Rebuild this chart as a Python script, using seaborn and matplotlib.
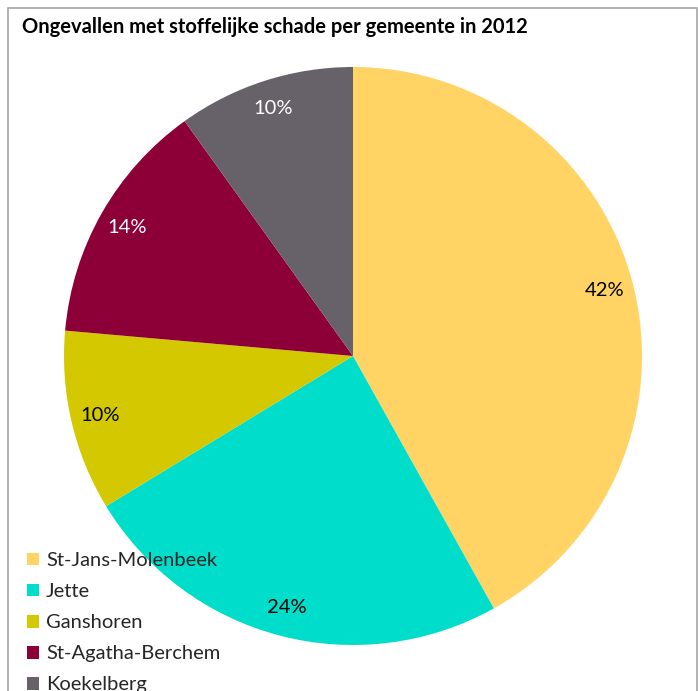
import matplotlib
matplotlib.use("Agg")
import matplotlib.pyplot as plt
import matplotlib.patches as mpatches
import seaborn as sns

gemeenten = ["St-Jans-Molenbeek", "Jette", "Ganshoren", "St-Agatha-Berchem", "Koekelberg"]
aandeel = [41.9, 24.4, 10.1, 13.7, 9.9]
kleuren = ["#FFD464", "#00DDCA", "#D4C900", "#8C0037", "#67616A"]
label_kleuren = ["black", "black", "black", "white", "white"]
titel = "Ongevallen met stoffelijke schade per gemeente in 2012"

sns.set_theme(style="white")
plt.rcParams["font.family"] = ["Lato", "DejaVu Sans"]

W, H = 698, 691
fig = plt.figure(figsize=(W / 100, H / 100), dpi=100)
fig.patch.set_facecolor("white")

# chart frame (bottom edge is cut off in the reference)
frame = mpatches.Rectangle((8 / W, -0.05), (697 - 8) / W, (H - 8) / H + 0.05,
                           transform=fig.transFigure, fill=False,
                           edgecolor="#A6A6A6", linewidth=1.2)
fig.patches.append(frame)

cx, cy, r = 353, 356, 289
ax = fig.add_axes([(cx - r) / W, (H - cy - r) / H, 2 * r / W, 2 * r / H])
pal = sns.color_palette(kleuren)
wedges, texts, autotexts = ax.pie(
    aandeel, colors=pal, startangle=90, counterclock=False,
    autopct="%.0f%%", pctdistance=0.9,
    wedgeprops=dict(linewidth=0),
    textprops=dict(fontsize=14.5))
for t, c in zip(autotexts, label_kleuren):
    t.set_color(c)
ax.set_xlim(-1, 1)
ax.set_ylim(-1, 1)
ax.set_aspect("equal")
ax.axis("off")

fig.text(22 / W, 1 - 27 / H, titel, fontsize=14.5, fontweight="bold",
         ha="left", va="center", color="black")

handles = [mpatches.Patch(facecolor=k, edgecolor="none") for k in kleuren]
leg = fig.legend(handles, gemeenten, loc="upper left",
                 bbox_to_anchor=(19 / W, 1 - 544 / H), frameon=False,
                 fontsize=14.5, handlelength=0.6, handleheight=0.6,
                 handletextpad=0.35, labelspacing=0.7, borderaxespad=0)

fig.savefig("out.png", dpi=100)
